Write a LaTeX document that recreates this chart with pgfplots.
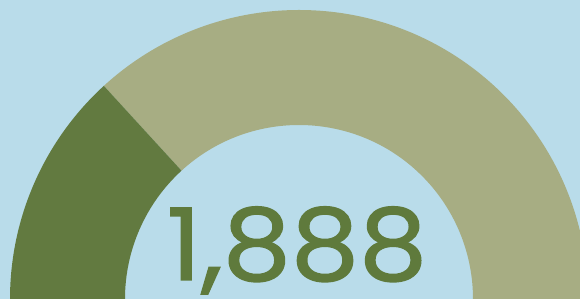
\documentclass[border=0pt]{standalone}
\usepackage{graphicx}
\usepackage{pgfplots}
\pgfplotsset{compat=1.18}
\usepackage{fontspec}
\setmainfont{Poppins}
\newfontfamily\numfont{Poppins}[FakeBold=1.3]
\definecolor{bg}{HTML}{B9DCEA}
\definecolor{darkseg}{HTML}{627A40}
\definecolor{lightseg}{HTML}{A7AD83}
\definecolor{txt}{HTML}{5F7A3C}
% gauge data: share of the dark segment (percent) and displayed value
\def\gaugeshare{26.4}
\def\gaugelabel{1,888}
\begin{document}
\begin{tikzpicture}
\begin{axis}[
  scale only axis, x=0.5pt, y=0.5pt,
  xmin=0, xmax=580, ymin=0, ymax=299,
  hide axis, clip=true]
\addplot[fill=bg, draw=none] coordinates {(0,0) (580,0) (580,299) (0,299)} -- cycle;
\pgfmathsetmacro{\splitang}{180-\gaugeshare*1.8}
\fill[lightseg] (axis cs:299,0) ++(0:144.5pt) arc[start angle=0,end angle=\splitang,radius=144.5pt]
  -- ([shift={(\splitang:87pt)}]axis cs:299,0) arc[start angle=\splitang,end angle=0,radius=87pt] -- cycle;
\fill[darkseg] (axis cs:299,0) ++(180:144.5pt) arc[start angle=180,end angle=\splitang,radius=144.5pt]
  -- ([shift={(\splitang:87pt)}]axis cs:299,0) arc[start angle=\splitang,end angle=180,radius=87pt] -- cycle;
\node[anchor=base, text=txt, font=\numfont\fontsize{50}{50}\selectfont, inner sep=0pt] at (axis cs:297,19) {\scalebox{1.08}[1]{\gaugelabel}};
\end{axis}
\end{tikzpicture}
\end{document}
